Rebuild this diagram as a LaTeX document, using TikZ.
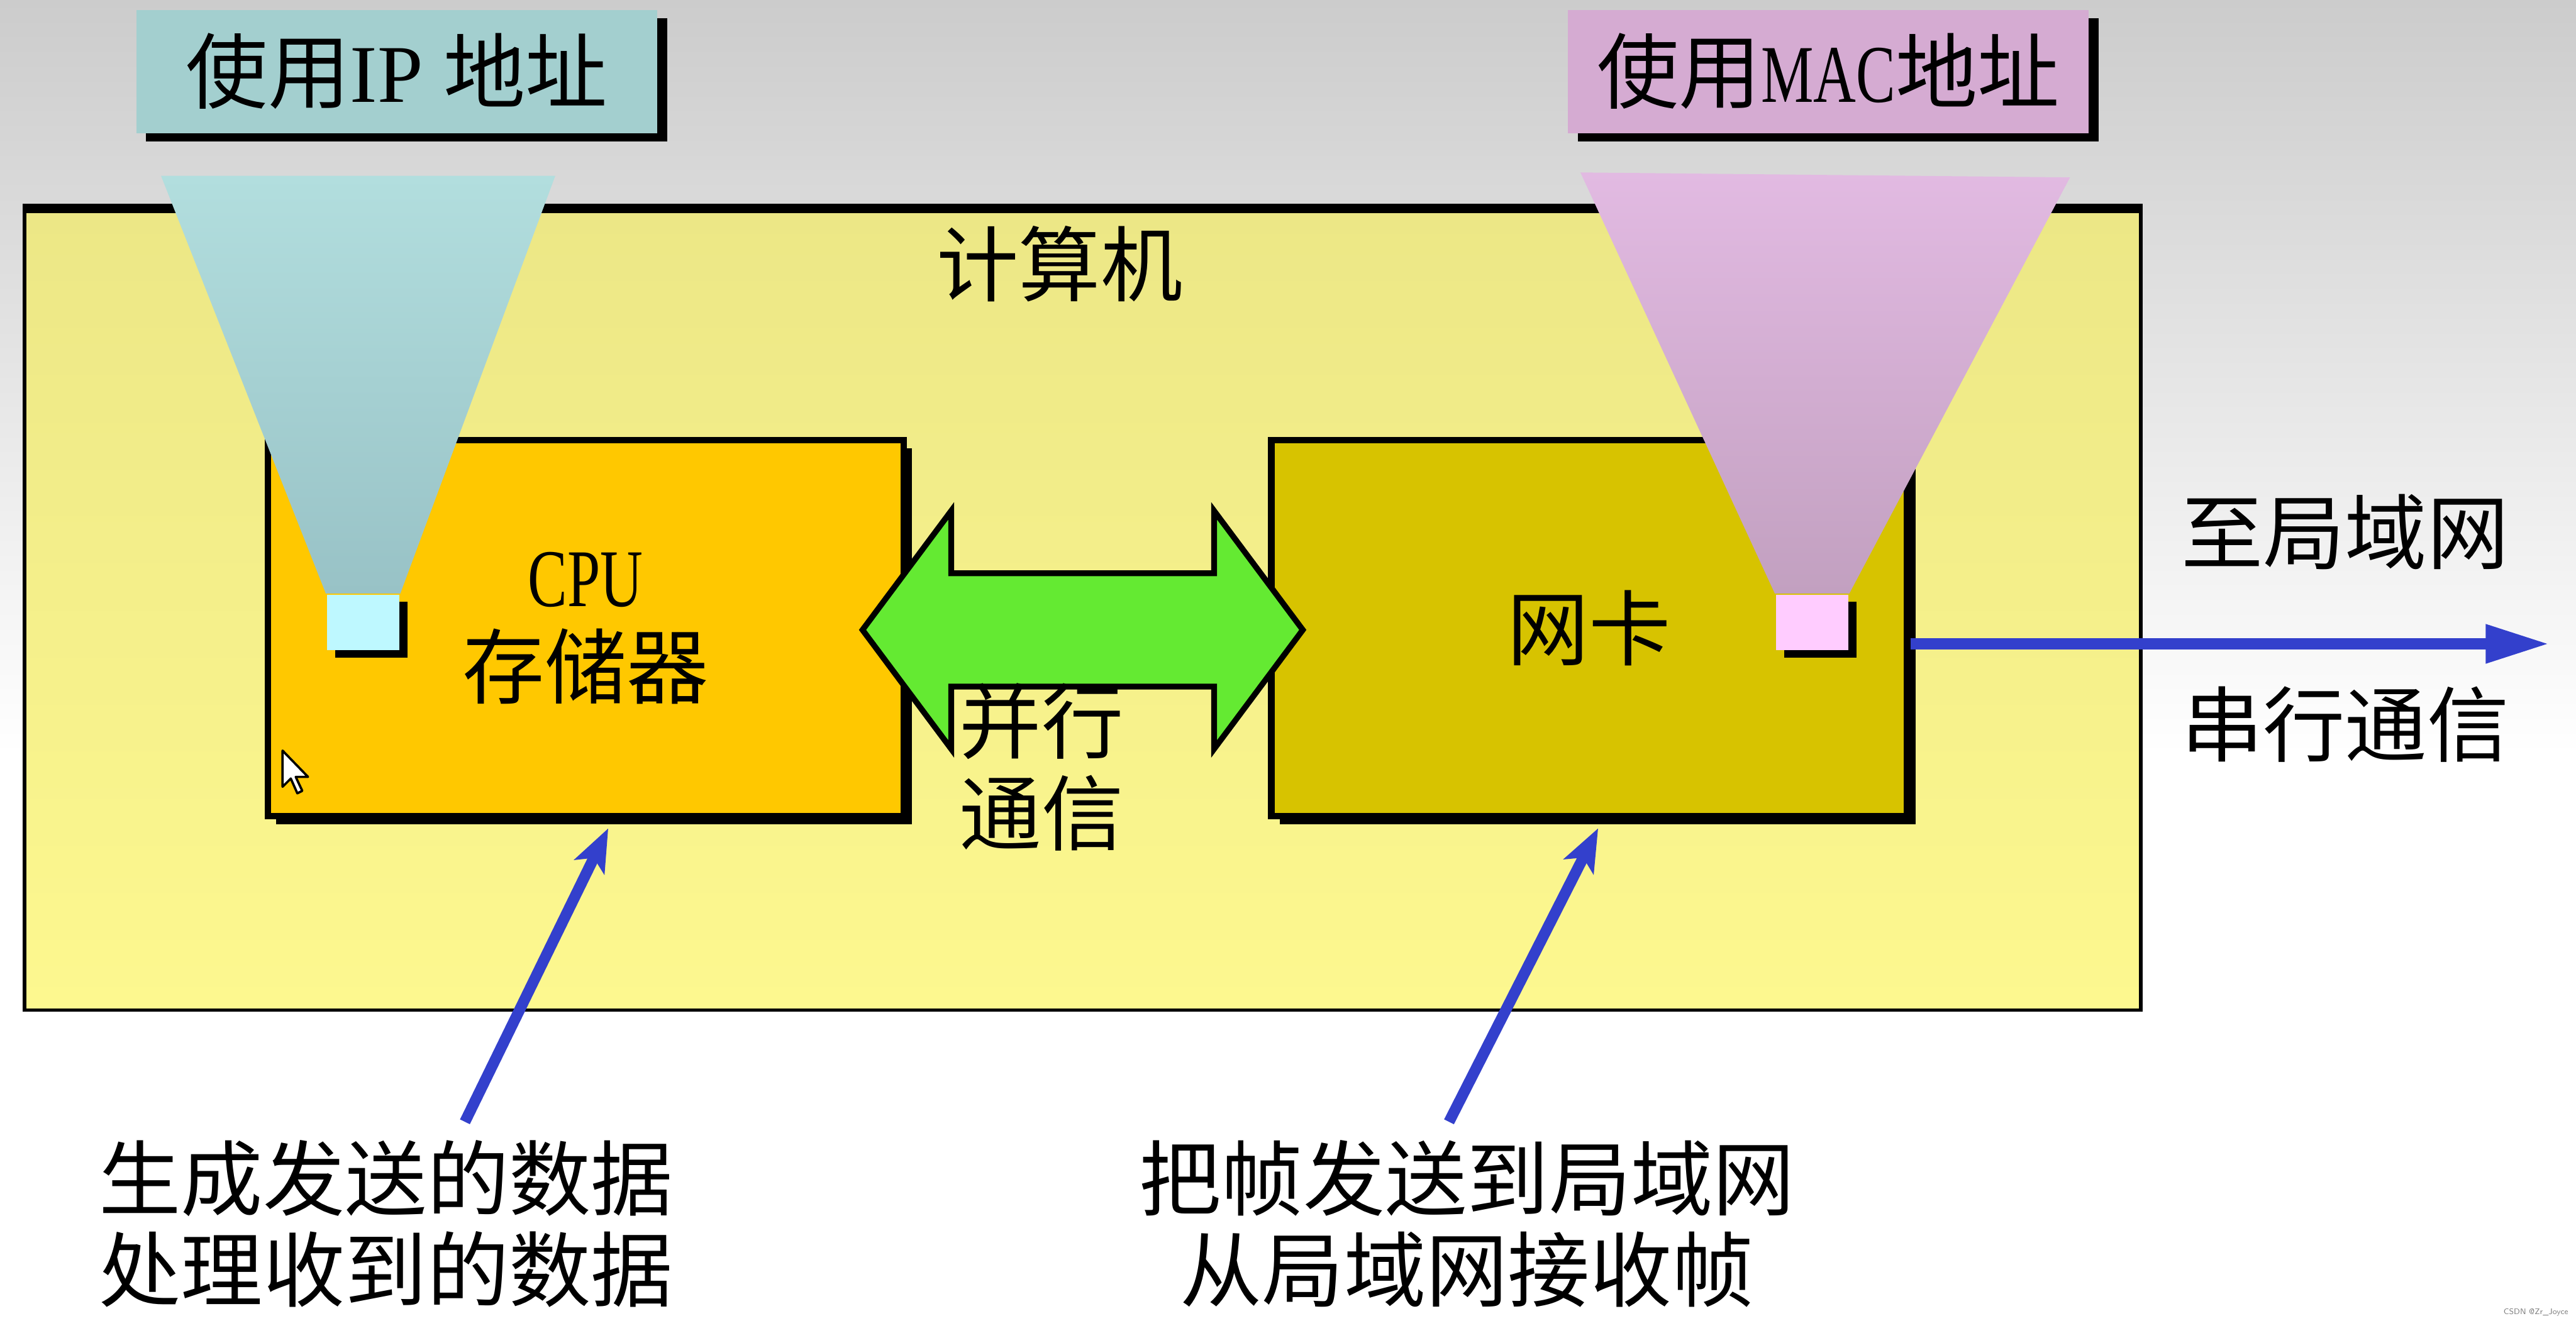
\documentclass[tikz,border=0pt]{standalone}
\usepackage{fontspec}
\setmainfont{Liberation Serif}
\newfontfamily\cjk{Noto Sans CJK SC}
\usetikzlibrary{arrows.meta,positioning,shadows}

\definecolor{compTop}{RGB}{236,231,134}
\definecolor{compBot}{RGB}{253,248,143}
\definecolor{cpuFill}{RGB}{255,200,0}
\definecolor{nicFill}{RGB}{215,195,0}
\definecolor{ipFill}{RGB}{163,207,207}
\definecolor{macFill}{RGB}{213,171,210}
\definecolor{ipTop}{RGB}{178,222,222}
\definecolor{ipBot}{RGB}{152,194,198}
\definecolor{macTop}{RGB}{226,186,226}
\definecolor{macBot}{RGB}{194,160,192}
\definecolor{ipPortFill}{RGB}{190,248,255}
\definecolor{macPortFill}{RGB}{255,204,255}
\definecolor{busGreen}{RGB}{100,234,50}
\definecolor{linkBlue}{RGB}{51,64,204}

\newcommand{\narrow}[1]{\scalebox{0.72}[1]{\rmfamily #1}}

\begin{document}
\begin{tikzpicture}[
  x=0.1mm, y=-0.1mm,
  font=\cjk\fontsize{14.2}{15.8}\selectfont,
  txt/.style={inner sep=1pt,align=center},
  box/.style={draw,line width=1.1pt,minimum width=3.87cm,minimum height=2.29cm,align=center,
    drop shadow={shadow xshift=0.5mm,shadow yshift=-0.5mm,fill=black,opacity=1}},
  tag/.style={minimum width=3.17cm,minimum height=0.75cm,inner sep=0pt,
    drop shadow={shadow xshift=0.6mm,shadow yshift=-0.5mm,fill=black,opacity=1}},
  port/.style={minimum width=0.44cm,minimum height=0.34cm,inner sep=0pt,
    drop shadow={shadow xshift=0.5mm,shadow yshift=-0.45mm,fill=black,opacity=1}},
  link/.style={draw=linkBlue,line width=2pt,-{Triangle[length=3.9mm,width=2.2mm]}},
  note/.style={draw=linkBlue,line width=1.9pt,-{Stealth[length=2.6mm,width=2mm,inset=0.6mm]}},
]

% page and background
\useasboundingbox (0,0) rectangle (1568,804);
\shade[top color=gray!40,bottom color=white] (0,0) rectangle (1568,460);

% computer
\node[draw,line width=0.6pt,top color=compTop,bottom color=compBot,
  minimum width=12.88cm,minimum height=4.87cm] (comp) at (659,371.5) {};
\draw[line width=1.6pt] (comp.north west) -- (comp.north east);
\node[txt,below=0.65mm of comp.north,xshift=-1.4mm] (compName) {计算机};

\node[box,fill=cpuFill] (cpu) at (356.5,382.5) {\narrow{CPU}\\存储器};
\node[box,fill=nicFill,right=2.2cm of cpu] (nic) {网卡};

% address funnels
\node[port,fill=ipPortFill] (ipPort) at (221,379) {};
\node[port,fill=macPortFill] (macPort) at (1103,379) {};
\shade[top color=ipTop,bottom color=ipBot] (98,107) -- (338,107) -- (ipPort.north east) -- (ipPort.north west) -- cycle;
\shade[top color=macTop,bottom color=macBot] (962,105) -- (1260,108) -- (macPort.north east) -- (macPort.north west) -- cycle;

\node[tag,fill=ipFill] (ipTag) at (241.5,43.5) {使用{\rmfamily IP\ }地址};
\node[tag,fill=macFill,right=5.53cm of ipTag] (macTag) {使用\narrow{MAC}地址};

% parallel bus
\draw[line width=1pt,fill=busGreen] (525,383.5) -- (579,311) -- (579,349) -- (739,349) -- (739,311)
  -- (793,383.5) -- (739,456) -- (739,418) -- (579,418) -- (579,456) -- cycle;
\node[txt] (busName) at (634,467) {并行\\通信};

% serial link
\coordinate (lan) at (1552,392);
\draw[link] (nic.east |- lan) -- node[txt,pos=0.68,above=3.8mm] (toLan) {至局域网}
  node[txt,pos=0.68,below=1.9mm] (serial) {串行通信} (lan);

% notes
\coordinate (cpuTail) at (283,683);
\coordinate (nicTail) at (882,683);
\draw[note,shorten >=0.6mm] (cpuTail) -- (cpu.-82.5);
\draw[note,shorten >=0.6mm] (nicTail) -- (nic.-86.3);
\node[txt] (cpuJob) at (235,745) {生成发送的数据\\处理收到的数据};
\node[txt] (nicJob) at (893,745) {把帧发送到局域网\\从局域网接收帧};

% mouse pointer
\draw[fill=white,line width=0.4pt,line join=round] (172,457) -- (172,479) -- (177,474) -- (181,483)
  -- (184,481.5) -- (180,473) -- (187.5,473) -- cycle;

\node[inner sep=0pt,anchor=south east,text=gray,font=\sffamily\fontsize{1.4}{1.7}\selectfont] (mark)
  at (1564,802) {CSDN @Zr\_Joyce};

\end{tikzpicture}
\end{document}
